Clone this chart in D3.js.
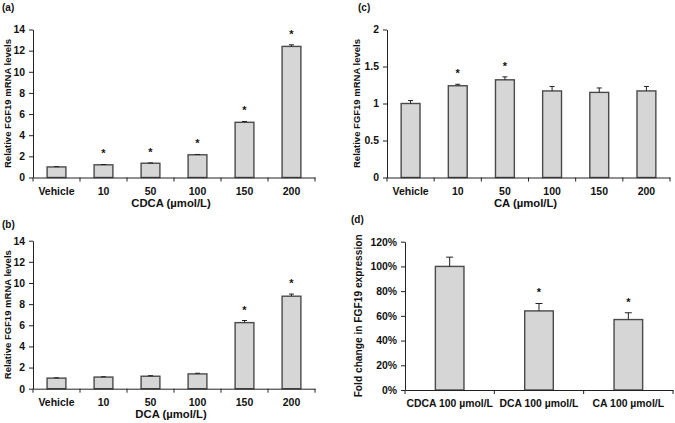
<!DOCTYPE html>
<html lang="en">
<head>
    <meta charset="UTF-8" />
    <title>FGF19 mRNA levels</title>
    <script src="https://d3js.org/d3.v7.min.js"></script>
    <style>
        body { margin: 0; background: #fff; }
        text { font-family: "Liberation Sans", Arial, sans-serif; font-weight: bold; fill: #111; }
    </style>
</head>
<body>
<div id="chart"></div>
<script>
    // ---- data ----
    var doses = ["Vehicle", "10", "50", "100", "150", "200"];

    var cdcaMean = [1.0, 1.2, 1.35, 2.15, 5.22, 12.4];
    var cdcaErr  = [0.03, 0.03, 0.03, 0.03, 0.08, 0.15];
    var cdcaSig  = [false, true, true, true, true, true];

    var dcaMean = [1.0, 1.1, 1.18, 1.4, 6.25, 8.75];
    var dcaErr  = [0.03, 0.03, 0.05, 0.06, 0.2, 0.2];
    var dcaSig  = [false, false, false, false, true, true];

    var caMean = [1.0, 1.24, 1.32, 1.17, 1.15, 1.17];
    var caErr  = [0.04, 0.02, 0.04, 0.06, 0.06, 0.06];
    var caSig  = [false, true, true, false, false, false];

    var compareCats = ["CDCA 100 \u00b5mol/L", "DCA 100 \u00b5mol/L", "CA 100 \u00b5mol/L"];
    var compareMean = [1.0, 0.64, 0.57];
    var compareErr  = [0.075, 0.06, 0.055];
    var compareSig  = [false, true, true];

    var foldTicks = [0, 2, 4, 6, 8, 10, 12, 14];
    var caTicks = [0, 0.5, 1, 1.5, 2];
    var pctTicks = [0, 0.2, 0.4, 0.6, 0.8, 1.0, 1.2];

    var svg = d3.select("#chart").append("svg")
        .attr("width", 675)
        .attr("height", 423);

    // draw one bar panel
    function drawPanel(p) {
        var x = d3.scaleBand().domain(p.cats).range([p.x0, p.x1]).padding(0);
        var y = d3.scaleLinear().domain([0, p.ticks[p.ticks.length - 1]]).range([p.y0, p.y1]);
        var g = svg.append("g");
        var bw = x.bandwidth() * p.barFrac;
        var mid = function(i) { return x(p.cats[i]) + x.bandwidth() / 2; };

        // bars
        g.selectAll("rect.bar")
          .data(p.mean)
          .enter().append("rect")
            .attr("class", "bar")
            .attr("x", function(d, i) { return mid(i) - bw / 2; })
            .attr("y", function(d) { return y(d); })
            .attr("width", bw)
            .attr("height", function(d) { return y(0) - y(d); })
            .attr("fill", "#d6d6d6")
            .attr("stroke", "#4a4a4a")
            .attr("stroke-width", 1.4);

        // error bars (upper half only) and stars
        var err = g.append("g").attr("stroke", "#222").attr("stroke-width", 1);
        p.mean.forEach(function(m, i) {
            var top = y(m + p.err[i]);
            err.append("line")
                .attr("x1", mid(i)).attr("x2", mid(i))
                .attr("y1", y(m)).attr("y2", top);
            err.append("line")
                .attr("x1", mid(i) - p.cap).attr("x2", mid(i) + p.cap)
                .attr("y1", top).attr("y2", top);
            if (p.sig[i]) {
                g.append("text")
                    .attr("x", mid(i))
                    .attr("y", top - 7)
                    .attr("text-anchor", "middle")
                    .style("font-size", "11px")
                    .text("*");
            }
        });

        // y axis
        var ya = g.append("g")
            .attr("transform", "translate(" + p.x0 + ",0)")
            .call(d3.axisLeft(y).tickValues(p.ticks).tickSize(4).tickSizeOuter(0).tickPadding(4).tickFormat(p.fmt));
        ya.selectAll("text").style("font-size", "10.4px").style("font-family", "Liberation Sans, Arial, sans-serif").style("font-weight", "bold");

        // x axis, with small ticks between categories
        var xa = g.append("g")
            .attr("transform", "translate(0," + p.y0 + ")")
            .call(d3.axisBottom(x).tickSize(0).tickSizeOuter(0).tickPadding(p.xpad));
        xa.selectAll("text").style("font-size", p.xfont).style("font-family", "Liberation Sans, Arial, sans-serif").style("font-weight", "bold");
        g.selectAll("path.domain").attr("stroke", "#222");
        g.selectAll(".tick line").attr("stroke", "#222");

        var bounds = p.cats.map(function(c) { return x(c); }).concat([p.x1]);
        g.selectAll("line.sep")
          .data(bounds)
          .enter().append("line")
            .attr("class", "sep")
            .attr("x1", function(d) { return d; })
            .attr("x2", function(d) { return d; })
            .attr("y1", p.y0)
            .attr("y2", p.y0 + 4)
            .attr("stroke", "#222");

        // titles
        if (p.xtitle) {
            g.append("text")
                .attr("x", (p.x0 + p.x1) / 2 - 3)
                .attr("y", p.y0 + 29)
                .attr("text-anchor", "middle")
                .style("font-size", "11.3px")
                .text(p.xtitle);
        }
        g.append("text")
            .attr("transform", "translate(" + p.ytx + "," + (p.y0 + p.y1) / 2 + ") rotate(-90)")
            .attr("text-anchor", "middle")
            .style("font-size", p.yfont)
            .text(p.ytitle);
        g.append("text")
            .attr("x", p.lx).attr("y", p.ly)
            .style("font-size", "10px")
            .text(p.label);
    }

    drawPanel({cats: doses, mean: cdcaMean, err: cdcaErr, sig: cdcaSig, ticks: foldTicks,
        x0: 33, x1: 315, y0: 177.5, y1: 29.5, barFrac: 0.4, cap: 2.5, xpad: 10, xfont: "10.5px",
        fmt: d3.format("d"), xtitle: "CDCA (\u00b5mol/L)", ytitle: "Relative FGF19 mRNA levels",
        ytx: 11, yfont: "9.5px", label: "(a)", lx: 2, ly: 11});

    drawPanel({cats: doses, mean: dcaMean, err: dcaErr, sig: dcaSig, ticks: foldTicks,
        x0: 33, x1: 315, y0: 388.7, y1: 240.7, barFrac: 0.4, cap: 2.5, xpad: 10, xfont: "10.5px",
        fmt: d3.format("d"), xtitle: "DCA (\u00b5mol/L)", ytitle: "Relative FGF19 mRNA levels",
        ytx: 11, yfont: "9.5px", label: "(b)", lx: 2, ly: 228});

    drawPanel({cats: doses, mean: caMean, err: caErr, sig: caSig, ticks: caTicks,
        x0: 387, x1: 670, y0: 177.5, y1: 29.5, barFrac: 0.4, cap: 2.5, xpad: 10, xfont: "10.5px",
        fmt: function(d) { return String(d); }, xtitle: "CA (\u00b5mol/L)", ytitle: "Relative FGF19 mRNA levels",
        ytx: 360, yfont: "9.5px", label: "(c)", lx: 358, ly: 11});

    drawPanel({cats: compareCats, mean: compareMean, err: compareErr, sig: compareSig, ticks: pctTicks,
        x0: 405, x1: 673, y0: 390, y1: 241.7, barFrac: 0.32, cap: 3.5, xpad: 10, xfont: "10.4px",
        fmt: d3.format(".0%"), xtitle: null, ytitle: "Fold change in FGF19 expression",
        ytx: 362, yfont: "10.2px", label: "(d)", lx: 351, ly: 223});
</script>
</body>
</html>
